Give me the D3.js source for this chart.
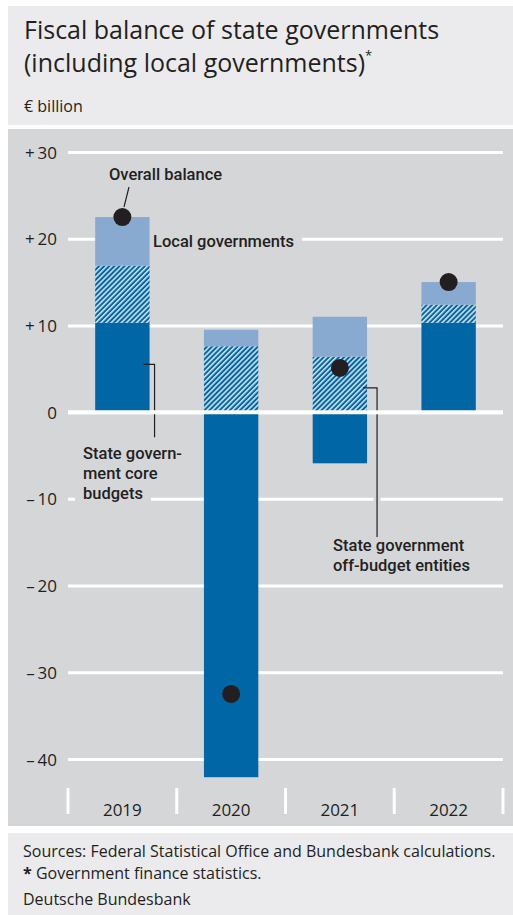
<!DOCTYPE html>
<html>
<head>
<meta charset="utf-8">
<script src="https://cdn.jsdelivr.net/npm/d3@7"></script>
<style>
    body { margin: 0; background: #fff; }
    svg text { font-family: 'Open Sans', sans-serif; fill: #231f20; }
    svg text.note { font-family: Roboto, 'Open Sans', sans-serif; }
</style>
</head>
<body>
<div id="chart"></div>
<script>
// values, EUR billion
var years = ['2019', '2020', '2021', '2022'];
var coreBudgets = [10.3, -42.1, -5.9, 10.3];
var offBudgetEntities = [6.6, 7.6, 6.4, 2.1];
var localGovernments = [5.6, 1.9, 4.6, 2.6];
var overallBalance = [22.5, -32.5, 5.1, 15.0];
var yTicks = [30, 20, 10, 0, -10, -20, -30, -40];

var width = 513;
var height = 915;
var darkBlue = '#0066a6';
var lightBlue = '#88aad0';
var panelGrey = '#d5d6d8';
var headGrey = '#ebebed';

var svg = d3
    .select('#chart')
    .append('svg')
    .attr('width', width)
    .attr('height', height);

// hatch for the off-budget entities
var defs = svg.append('defs');
var hatch = defs
    .append('pattern')
    .attr('id', 'hatch')
    .attr('patternUnits', 'userSpaceOnUse')
    .attr('width', 3.6)
    .attr('height', 3.6)
    .attr('patternTransform', 'rotate(45)');
hatch.append('rect').attr('width', 3.6).attr('height', 3.6).attr('fill', darkBlue);
hatch
    .append('line')
    .attr('x1', 0.8).attr('y1', 0)
    .attr('x2', 0.8).attr('y2', 3.6)
    .attr('stroke', '#fff')
    .attr('stroke-width', 1.3);

// panels
svg.append('rect').attr('x', 8).attr('y', 6).attr('width', width - 8).attr('height', 119).attr('fill', headGrey);
svg.append('rect').attr('x', 8).attr('y', 129).attr('width', width - 8).attr('height', 697).attr('fill', panelGrey);
svg.append('rect').attr('x', 8).attr('y', 833).attr('width', width - 8).attr('height', 82).attr('fill', headGrey);

// header
var title = svg.append('text').attr('x', 24).attr('font-size', 25);
title.append('tspan').attr('x', 24).attr('y', 39).text('Fiscal balance of state governments');
title.append('tspan').attr('x', 24).attr('y', 72).text('(including local governments)');
title.append('tspan').attr('dy', -12).attr('font-size', 13).text('*');
svg.append('text').attr('x', 24).attr('y', 112).attr('font-size', 16).text('\u20ac billion');

var xScale = d3.scaleBand().domain(years).range([68, 503]);
var yScale = d3.scaleLinear().domain([-40, 30]).range([759, 152]);
var bw = xScale.bandwidth();

// gridlines + tick labels
var yAxis = d3
    .axisLeft(yScale)
    .tickValues(yTicks)
    .tickSizeInner(-(xScale.range()[1] - xScale.range()[0]))
    .tickSizeOuter(0)
    .tickPadding(11)
    .tickFormat(function(d) {
        if (d > 0) return '+\u2009' + d;
        if (d < 0) return '\u2013\u2009' + (-d);
        return '0';
    });
var gy = svg.append('g').attr('transform', 'translate(68,0)').call(yAxis);
gy.select('.domain').remove();
gy.selectAll('line').attr('stroke', '#fff').attr('stroke-width', 3);
gy.selectAll('text').attr('font-size', 17).attr('fill', '#231f20').attr('dy', '0.36em');

// grey knock-outs behind some labels go under the bars
var haloLayer = svg.append('g').attr('fill', panelGrey);

// stacked bars
var table = years.map(function(y, i) {
    return { year: y, core: coreBudgets[i], off: offBudgetEntities[i], local: localGovernments[i] };
});
var series = d3
    .stack()
    .keys(['core', 'off', 'local'])
    .offset(d3.stackOffsetDiverging)(table);
var fills = { core: darkBlue, off: 'url(#hatch)', local: lightBlue };

svg.append('g')
    .selectAll('g')
    .data(series)
    .enter()
    .append('g')
    .attr('fill', function(s) { return fills[s.key]; })
    .selectAll('rect')
    .data(function(s) { return s; })
    .enter()
    .append('rect')
    .attr('x', function(d) { return xScale(d.data.year) + bw * 0.25; })
    .attr('y', function(d) { return yScale(Math.max(d[0], d[1])); })
    .attr('width', bw * 0.5)
    .attr('height', function(d) { return Math.abs(yScale(d[0]) - yScale(d[1])); });

// leader lines
var leaders = svg.append('g').attr('fill', 'none');
function barRight(y) { return xScale(y) + bw * 0.75; }
var coreX = barRight('2019') + 5;
var offX = barRight('2021') + 10;
// grey halo where the leader crosses a gridline
leaders.append('line')
    .attr('x1', offX).attr('x2', offX)
    .attr('y1', yScale(-8)).attr('y2', yScale(-12))
    .attr('stroke', panelGrey).attr('stroke-width', 7);
leaders.append('path')
    .attr('d', 'M' + (barRight('2019') - 6) + ',' + yScale(5.5) + 'H' + coreX + 'V' + yScale(-2.9))
    .attr('stroke', '#231f20').attr('stroke-width', 1.2);
leaders.append('path')
    .attr('d', 'M' + (barRight('2021') - 4) + ',' + yScale(2.8) + 'H' + offX + 'V' + yScale(-14.4))
    .attr('stroke', '#231f20').attr('stroke-width', 1.2);
leaders.append('path')
    .attr('d', 'M' + 129 + ',' + 187 + 'L' + 124 + ',' + 207)
    .attr('stroke', '#231f20').attr('stroke-width', 1.2);

// zero line over the bars
svg.append('line')
    .attr('x1', xScale.range()[0]).attr('x2', xScale.range()[1])
    .attr('y1', yScale(0)).attr('y2', yScale(0))
    .attr('stroke', '#fff').attr('stroke-width', 4);

// overall balance dots
svg.append('g')
    .selectAll('circle')
    .data(overallBalance)
    .enter()
    .append('circle')
    .attr('cx', function(d, i) { return xScale(years[i]) + bw / 2; })
    .attr('cy', function(d) { return yScale(d); })
    .attr('r', 9)
    .attr('fill', '#231f20');

// x axis: separators and years
var seps = years.map(function(y) { return xScale(y); }).concat([xScale.range()[1]]);
svg.append('g')
    .selectAll('line')
    .data(seps)
    .enter()
    .append('line')
    .attr('x1', function(d) { return d; })
    .attr('x2', function(d) { return d; })
    .attr('y1', 788).attr('y2', 814)
    .attr('stroke', '#fff').attr('stroke-width', 3);
svg.append('g')
    .selectAll('text')
    .data(years)
    .enter()
    .append('text')
    .attr('x', function(d) { return xScale(d) + bw / 2; })
    .attr('y', 816)
    .attr('text-anchor', 'middle')
    .attr('font-size', 17)
    .text(function(d) { return d; });

// annotation labels; a grey box behind each line breaks the gridlines
var textLayer = svg.append('g');
var labelSize = 16.5;
var lineGap = 20;
function label(x, y, lines, halo) {
    var t = textLayer.append('text')
        .attr('class', 'note')
        .attr('font-size', labelSize)
        .attr('font-weight', 500);
    lines.forEach(function(l, i) {
        var ly = y + i * lineGap;
        var ts = t.append('tspan').attr('x', x).attr('y', ly).text(l);
        if (halo) {
            var w = ts.node().getComputedTextLength();
            haloLayer.append('rect')
                .attr('x', x - 8)
                .attr('y', ly - labelSize * 0.75)
                .attr('width', w + 16)
                .attr('height', labelSize);
        }
    });
}
label(109, 180, ['Overall balance'], false);
label(153, 247, ['Local governments'], true);
label(83, 459, ['State govern-', 'ment core', 'budgets'], true);
label(333, 551, ['State government', 'off-budget entities'], false);

// footer
svg.append('text').attr('x', 23).attr('y', 856.5).attr('font-size', 16).text('Sources: Federal Statistical Office and Bundesbank calculations.');
var fn = svg.append('text').attr('x', 23).attr('y', 878.5).attr('font-size', 16);
fn.append('tspan').attr('font-weight', 700).text('*');
fn.append('tspan').text(' Government finance statistics.');
svg.append('text').attr('x', 23).attr('y', 905).attr('font-size', 16).text('Deutsche Bundesbank');
</script>
</body>
</html>
